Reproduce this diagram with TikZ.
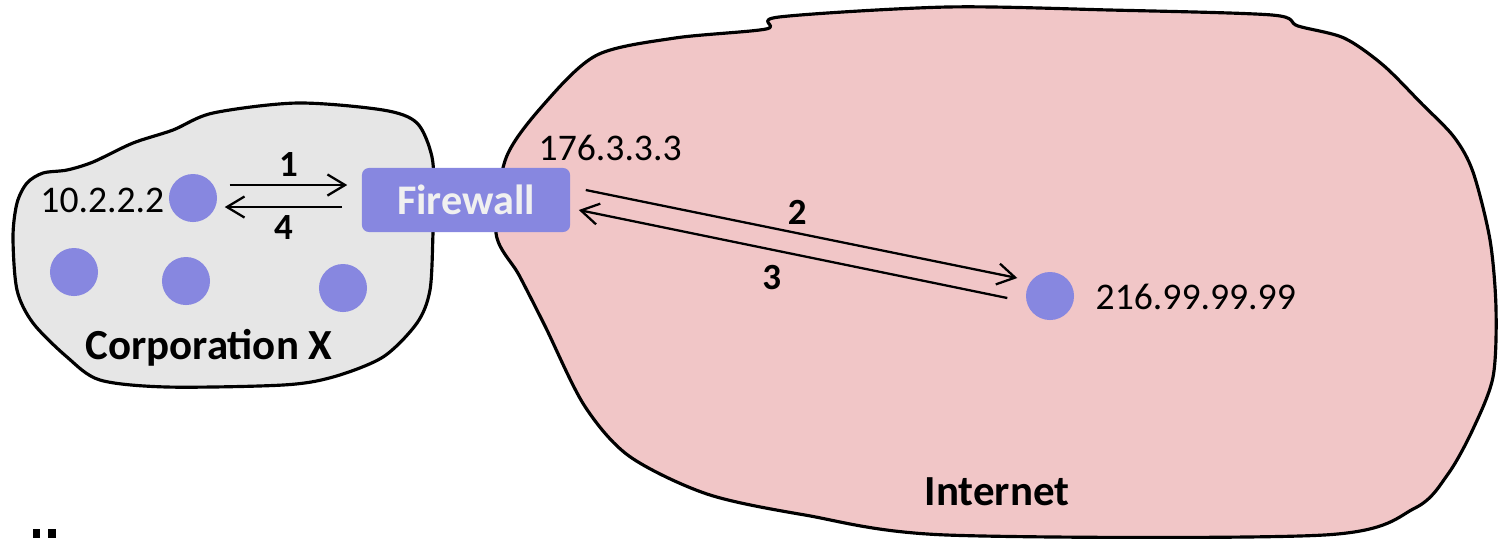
\documentclass[tikz,border=0pt]{standalone}
\usepackage{fontspec}
\setmainfont{Carlito}
\usetikzlibrary{arrows.meta, positioning, calc}

\definecolor{hostblue}{RGB}{135,135,224}
\definecolor{corpgray}{RGB}{230,230,230}
\definecolor{netpink}{RGB}{241,198,199}

\begin{document}
\begin{tikzpicture}[x=0.01cm, y=-0.01cm,
    cloud/.style={draw=black, line width=0.9pt, line join=round},
    host/.style={circle, fill=hostblue, minimum size=0.48cm, inner sep=0pt},
    fwbox/.style={rectangle, rounded corners=2pt, fill=hostblue, text=white!94!black, minimum width=2.08cm, minimum height=0.64cm, font=\fontsize{12}{14}\selectfont\bfseries},
    addr/.style={inner sep=0pt, font=\fontsize{10.7}{12}\selectfont},
    stepnum/.style={inner sep=2pt, font=\fontsize{10.5}{12}\selectfont\bfseries},
    title/.style={font=\fontsize{12.2}{14}\selectfont\bfseries},
    flow/.style={-{Straight Barb[length=5pt, width=6pt]}, line width=0.65pt}
]
\useasboundingbox (0,0) rectangle (1498,538);

% Networks
\draw[cloud, fill=corpgray] plot[smooth cycle, tension=0.5] coordinates {
  (13,237) (17,203) (27,183) (43,173) (67,170) (93,162) (133,143) (173,130)
  (213,113) (297,103) (383,110) (417,123) (432,157) (434,200) (433,233)
  (430,290) (417,323) (383,357) (333,377) (283,385) (167,387) (100,380)
  (67,357) (33,323) (17,290)};
\draw[cloud, fill=netpink] plot[smooth cycle, tension=0.5] coordinates {
  (779,17) (947,7) (1110,10) (1272,15) (1298,26) (1344,38) (1383,65)
  (1421,103) (1454,137) (1473,172) (1490,240) (1496,309) (1493,377)
  (1473,429) (1448,474) (1415,508) (1324,535) (947,535) (805,515)
  (707,494) (629,456) (584,405) (545,326) (519,275) (496,233) (506,158)
  (545,103) (597,55) (675,38) (766,29)};

% Hosts
\node[host] (h1) at (193,198) {};
\node[host] (h2) at (74,272) {};
\node[host] (h3) at (186,281) {};
\node[host] (h4) at (343,288) {};
\node[host] (remote) at (1050,296) {};
\node[fwbox] (fw) at (466,200) {Firewall};

% Addresses and names
\node[addr, anchor=east] (ipcorp) at (165,200) {10.2.2.2};
\node[addr, anchor=west] (ipfw) at (538,148) {176.3.3.3};
\node[addr, anchor=west] (ipnet) at (1095,297) {216.99.99.99};
\node[title] (corp) at (209,348) {Corporation X};
\node[title] (inet) at (997,492) {Internet};

% Packets
\draw[flow] ([shift={(12,-13)}]h1.east) -- node[stepnum, above] (s1) {1} ([shift={(-14,-15)}]fw.west);
\draw[flow] ([shift={(-19,7)}]fw.west) -- node[stepnum, below] (s4) {4} ([shift={(7,9)}]h1.east);
\draw[flow] ([shift={(15,-10)}]fw.east) -- node[stepnum, above=0pt, pos=0.49] (s2) {2} ([shift={(-8,-18)}]remote.west);
\draw[flow] ([shift={(-18,2)}]remote.west) -- node[stepnum, below=2pt, pos=0.55] (s3) {3} ([shift={(8,10)}]fw.east);

% cut-off marks at the bottom
\fill (33,529) rectangle (40,538);
\fill (48,529) rectangle (56,538);
\end{tikzpicture}
\end{document}
